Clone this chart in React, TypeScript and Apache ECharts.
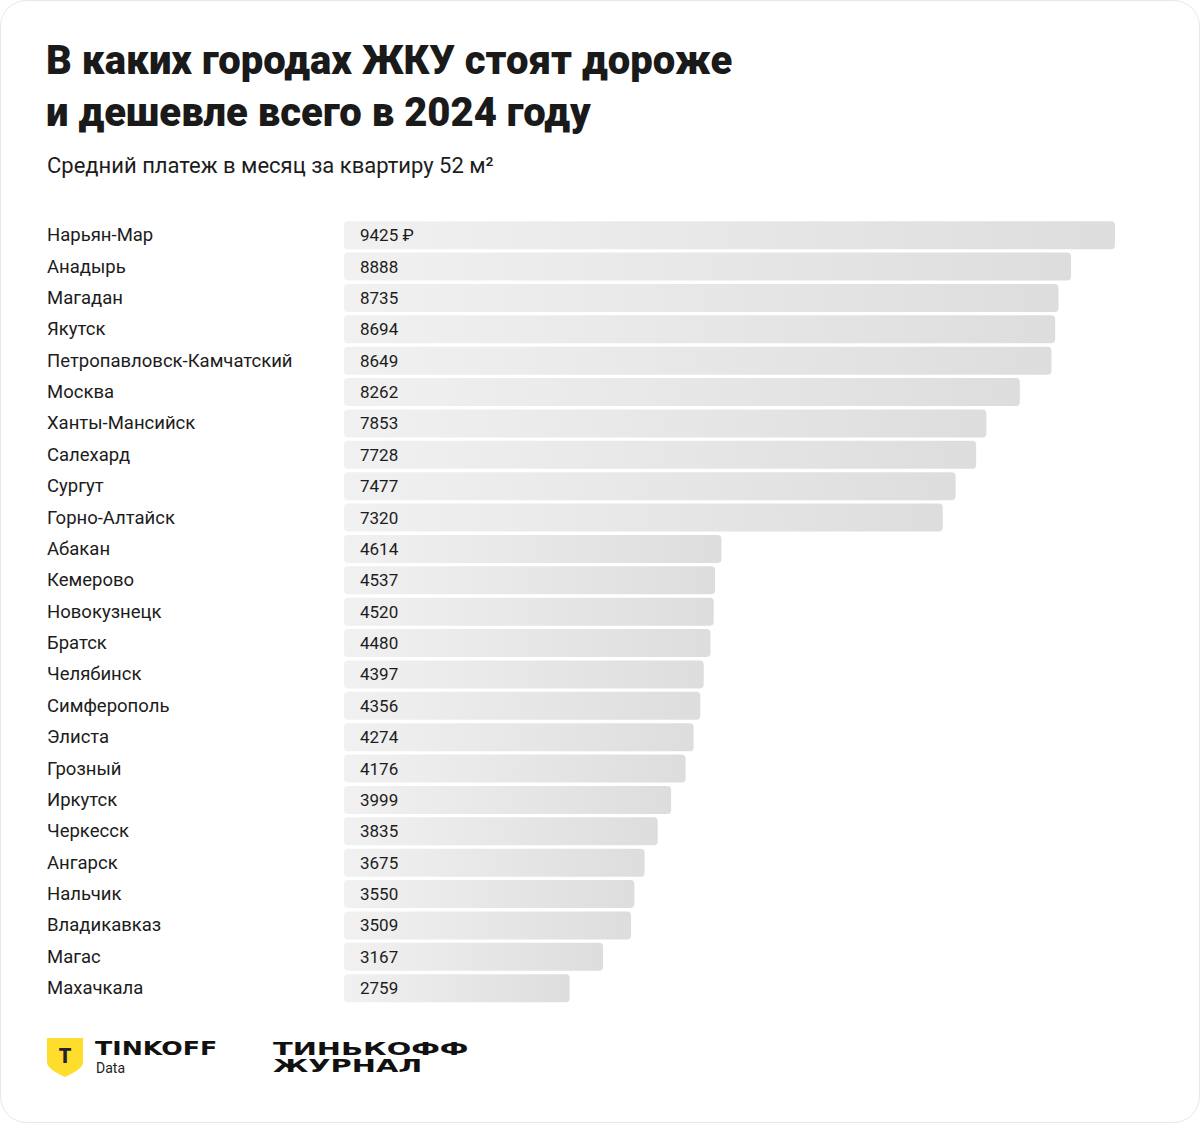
import React, { useEffect, useRef } from "react";
import * as echarts from "echarts";

const cities = [
  "Нарьян-Мар", "Анадырь", "Магадан", "Якутск", "Петропавловск-Камчатский",
  "Москва", "Ханты-Мансийск", "Салехард", "Сургут", "Горно-Алтайск",
  "Абакан", "Кемерово", "Новокузнецк", "Братск", "Челябинск",
  "Симферополь", "Элиста", "Грозный", "Иркутск", "Черкесск",
  "Ангарск", "Нальчик", "Владикавказ", "Магас", "Махачкала",
];
const payments = [
  9425, 8888, 8735, 8694, 8649,
  8262, 7853, 7728, 7477, 7320,
  4614, 4537, 4520, 4480, 4397,
  4356, 4274, 4176, 3999, 3835,
  3675, 3550, 3509, 3167, 2759,
];
const titleLines = ["В каких городах ЖКУ стоят дороже", "и дешевле всего в 2024 году"];
const subtitle = "Средний платеж в месяц за квартиру 52 м²";
const currency = "₽";

echarts.graphic.registerShape(
  "shield",
  echarts.graphic.extendPath("M0 0 L36 0 L36 24 C36 30 28 34 18 39 C8 34 0 30 0 24 Z", {}) as any
);

export default function App() {
  const ref = useRef<HTMLDivElement>(null);
  useEffect(() => {
    const chart = echarts.init(ref.current!, null, { renderer: "svg" });
    const font = "Roboto, 'Noto Sans', sans-serif";
    chart.setOption({
      animation: false,
      backgroundColor: "transparent",
      grid: { left: 344, top: 219.5, width: 818, height: 784.4, containLabel: false },
      xAxis: {
        type: "value",
        min: 0,
        max: 10000,
        show: false,
      },
      yAxis: {
        type: "category",
        inverse: true,
        data: cities,
        axisLine: { show: false },
        axisTick: { show: false },
        splitLine: { show: false },
        axisLabel: {
          align: "left",
          margin: 297,
          fontFamily: font,
          fontSize: 18.5,
          color: "#1c1c1c",
        },
      },
      series: [
        {
          type: "bar",
          data: payments,
          barWidth: 28,
          itemStyle: {
            borderRadius: 4,
            color: new echarts.graphic.LinearGradient(0, 0, 1, 0, [
              { offset: 0, color: "#f1f1f1" },
              { offset: 1, color: "#dddddd" },
            ]),
          },
          label: {
            show: true,
            position: "insideLeft",
            distance: 16,
            fontFamily: font,
            fontSize: 17,
            color: "#1c1c1c",
            formatter: (p: any) => (p.dataIndex === 0 ? `${p.value} ${currency}` : `${p.value}`),
          },
        },
      ],
      graphic: [
        {
          type: "rect",
          z: -10,
          silent: true,
          shape: { x: 0.5, y: 0.5, width: 1199, height: 1122, r: 26 },
          style: { fill: "#ffffff", stroke: "#e8e8e8", lineWidth: 1 },
        },
        {
          type: "text",
          left: 46,
          top: 34,
          style: {
            text: titleLines.join("\n"),
            fontFamily: font,
            fontWeight: 900,
            fontSize: 40,
            lineHeight: 52,
            fill: "#1a1a1a",
          },
        },
        {
          type: "text",
          left: 47,
          top: 154,
          style: {
            text: subtitle,
            fontFamily: font,
            fontSize: 22,
            fill: "#1c1c1c",
          },
        },
        {
          type: "shield",
          x: 47,
          y: 1038,
          style: { fill: "#ffdd2d" },
        },
        {
          type: "text",
          x: 65,
          y: 1056,
          style: {
            text: "Т",
            fontFamily: font,
            fontWeight: 900,
            fontSize: 20,
            fill: "#222233",
            align: "center",
            verticalAlign: "middle",
          },
        },
        {
          type: "text",
          x: 95,
          y: 1048,
          scaleX: 1.33,
          style: {
            text: "TINKOFF",
            fontFamily: "'DejaVu Sans', sans-serif",
            fontWeight: "bold",
            fontSize: 19,
            fill: "#111111",
            verticalAlign: "middle",
          },
        },
        {
          type: "text",
          x: 96,
          y: 1068,
          style: {
            text: "Data",
            fontFamily: font,
            fontSize: 14,
            fill: "#222222",
            verticalAlign: "middle",
          },
        },
        {
          type: "text",
          x: 273,
          y: 1058,
          scaleX: 1.7,
          style: {
            text: "ТИНЬКОФФ\nЖУРНАЛ",
            fontFamily: "'DejaVu Sans', sans-serif",
            fontWeight: "bold",
            fontSize: 17,
            lineHeight: 17,
            fill: "#111111",
            verticalAlign: "middle",
          },
        },
      ],
    });
    return () => chart.dispose();
  }, []);
  return (
    <div
      ref={ref}
      style={{ position: "absolute", left: 0, top: 0, width: 1200, height: 1123, background: "#ffffff" }}
    />
  );
}
